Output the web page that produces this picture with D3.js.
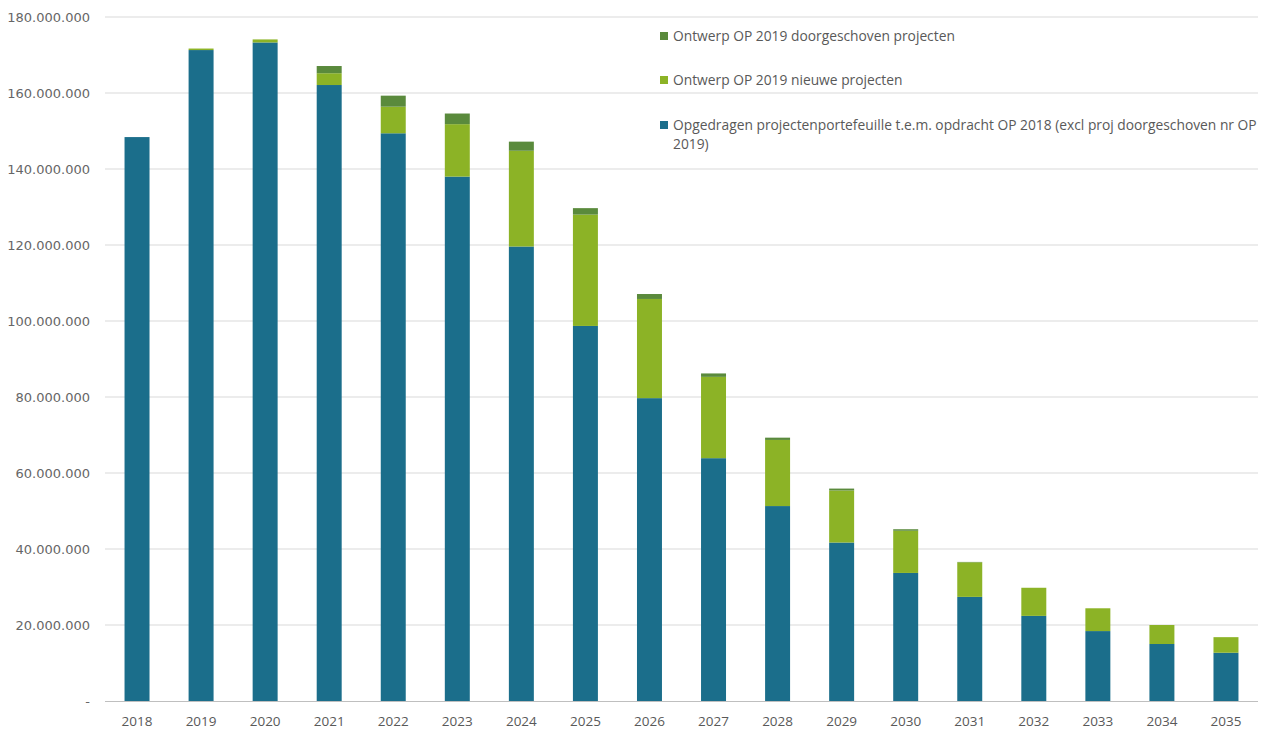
<!DOCTYPE html>
<html><head><meta charset="utf-8">
<script src="https://cdn.jsdelivr.net/npm/d3@7"></script>
<style>body{margin:0;background:#fff}svg{display:block}</style>
</head><body>
<svg id="c" width="1269" height="731"></svg>
<script>
const years = ["2018","2019","2020","2021","2022","2023","2024","2025","2026","2027","2028","2029","2030","2031","2032","2033","2034","2035"];
const opgedragen = [148.4,171.3,173.3,162.1,149.4,138.0,119.6,98.7,79.7,63.9,51.3,41.7,33.7,27.4,22.4,18.4,15.0,12.7].map(v=>v*1e6);
const nieuwe = [0,0.4,0.8,3.1,7.0,13.8,25.2,29.3,26.1,21.4,17.4,13.7,11.1,9.1,7.4,6.0,5.0,4.1].map(v=>v*1e6);
const doorgeschoven = [0,0,0,1.9,2.9,2.8,2.4,1.7,1.3,0.9,0.6,0.5,0.4,0.1,0,0,0,0].map(v=>v*1e6);
const yTicks = [0,20e6,40e6,60e6,80e6,100e6,120e6,140e6,160e6,180e6];
const seriesNames = ["Opgedragen projectenportefeuille t.e.m. opdracht OP 2018 (excl proj doorgeschoven nr OP 2019)","Ontwerp OP 2019 nieuwe projecten","Ontwerp OP 2019 doorgeschoven projecten"];
const colors = ["#1b6e8b","#8cb326","#5a8a3c"];

(function(){
const svg = d3.select("#c");
const font = "'Open Sans', 'Liberation Sans', sans-serif";
const mLeft = 105, mRight = 1258, mTop = 17, mBottom = 701;
const x = d3.scaleBand().domain(years).range([mLeft,mRight]).paddingInner(0.61).paddingOuter(0.305);
const y = d3.scaleLinear().domain([0,180e6]).range([mBottom,mTop]);

const fmt = v => v===0 ? "-" : d3.format(",")(v).replace(/,/g,".");
svg.append("g").selectAll("line").data(yTicks.filter(d=>d>0)).join("line")
  .attr("x1",mLeft).attr("x2",mRight).attr("y1",d=>y(d)).attr("y2",d=>y(d))
  .attr("stroke","#d9d9d9").attr("stroke-width",1);
svg.append("g").selectAll("text").data(yTicks).join("text")
  .attr("x",90).attr("y",d=>y(d)).attr("dy","0.35em").attr("text-anchor","end")
  .attr("font-family","'DejaVu Sans', sans-serif").attr("font-size",13).attr("fill","#666666").text(fmt);

const data = years.map((yr,i)=>({year:yr, a:opgedragen[i], b:nieuwe[i], c:doorgeschoven[i]}));
const stack = d3.stack().keys(["a","b","c"])(data);
svg.append("g").selectAll("g").data(stack).join("g").attr("fill",(d,i)=>colors[i])
  .selectAll("rect").data(d=>d).join("rect")
  .attr("x",d=>x(d.data.year)).attr("width",x.bandwidth())
  .attr("y",d=>y(d[1])).attr("height",d=>Math.max(0,y(d[0])-y(d[1])));

svg.append("line").attr("x1",mLeft).attr("x2",mRight).attr("y1",mBottom+0.5).attr("y2",mBottom+0.5)
  .attr("stroke","#bfbfbf");
svg.append("g").selectAll("text").data(years).join("text")
  .attr("x",d=>x(d)+x.bandwidth()/2).attr("y",726).attr("text-anchor","middle")
  .attr("font-family",font).attr("font-size",13.5).attr("fill","#595959").text(d=>d);

const leg = [
  {i:2, y:36, lines:[seriesNames[2]]},
  {i:1, y:80, lines:[seriesNames[1]]},
  {i:0, y:125, lines:["Opgedragen projectenportefeuille t.e.m. opdracht OP 2018 (excl proj doorgeschoven nr OP","2019)"]}
];
const lg = svg.append("g");
leg.forEach(l=>{
  lg.append("rect").attr("x",660).attr("y",l.y-4).attr("width",8).attr("height",8).attr("fill",colors[l.i]);
  l.lines.forEach((t,k)=>{
    lg.append("text").attr("x",673).attr("y",l.y+k*19).attr("dy","0.35em")
      .attr("font-family",font).attr("font-size",13.8).attr("fill","#595959").text(t);
  });
});
})();
</script>
</body></html>
